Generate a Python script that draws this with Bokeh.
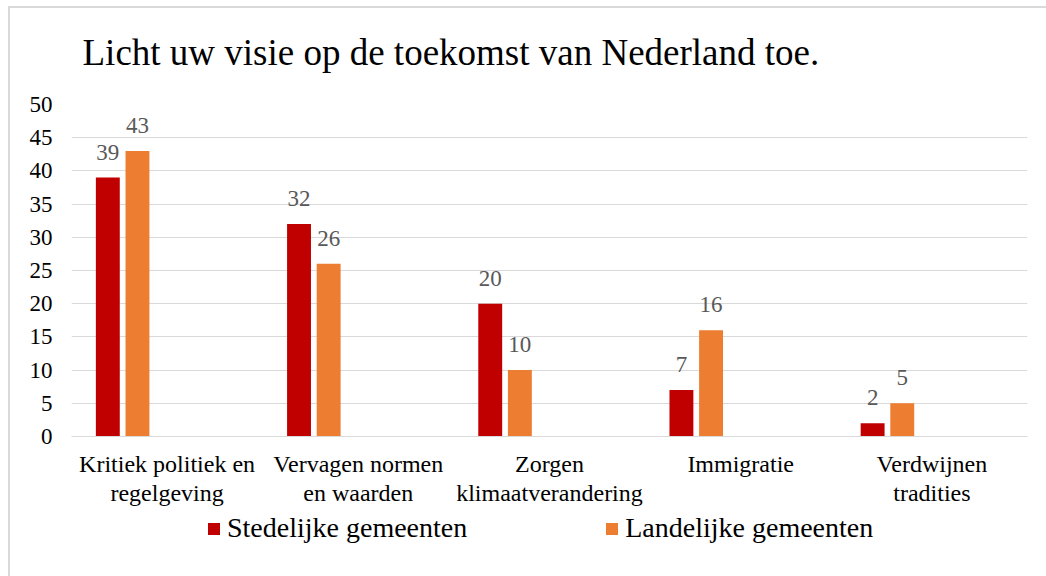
from bokeh.plotting import figure
from bokeh.layouts import column
from bokeh.models import ColumnDataSource, FactorRange, Legend, LegendItem, LabelSet, Label, SingleIntervalTicker, Range1d
from bokeh.transform import dodge
from bokeh.core.properties import value
from bokeh.embed import file_html
from bokeh.resources import INLINE

categories = ["Kritiek politiek en\nregelgeving", "Vervagen normen\nen waarden",
              "Zorgen\nklimaatverandering", "Immigratie", "Verdwijnen\ntradities"]
stedelijk = [39, 32, 20, 7, 2]
landelijk = [43, 26, 10, 16, 5]
series_names = ["Stedelijke gemeenten", "Landelijke gemeenten"]
title_text = "Licht uw visie op de toekomst van Nederland toe."

FONT = "Liberation Serif"
RED = "#C00000"
ORANGE = "#ED7D31"
GRID = "#D9D9D9"

src = ColumnDataSource(dict(cat=categories, s=stedelijk, l=landelijk,
                            s_lbl=[str(v) for v in stedelijk],
                            l_lbl=[str(v) for v in landelijk]))
xr = FactorRange(*categories, range_padding=0)


def strip(h, yr):
    f = figure(x_range=xr, y_range=yr, frame_width=956, frame_height=h,
               output_backend="svg", toolbar_location=None,
               x_axis_location=None, y_axis_location=None,
               min_border_left=61, min_border_right=19, min_border_top=0, min_border_bottom=0)
    f.outline_line_color = None
    f.grid.visible = False
    f.background_fill_color = "white"
    f.border_fill_color = "white"
    return f


# title strip
p0 = strip(76, Range1d(0, 1))
p0.add_layout(Label(x=11, y=32, x_units="screen", y_units="screen", text=title_text,
                    text_font=FONT, text_font_size="37px", text_color="#000000",
                    text_baseline="alphabetic"))

# main chart
p = figure(x_range=xr, y_range=Range1d(0, 50),
           frame_width=956, frame_height=332, output_backend="svg", toolbar_location=None,
           min_border_left=61, min_border_right=19, min_border_top=20, min_border_bottom=72)
p.outline_line_color = None
p.background_fill_color = "white"
p.border_fill_color = "white"

r1 = p.vbar(x=dodge('cat', -0.31, range=xr), top='s', width=0.125, source=src,
            fill_color=RED, line_color=None)
r2 = p.vbar(x=dodge('cat', -0.155, range=xr), top='l', width=0.125, source=src,
            fill_color=ORANGE, line_color=None)

for col, off in (("s", -0.31), ("l", -0.155)):
    p.add_layout(LabelSet(x=dodge('cat', off, range=xr), y=col, text=col + "_lbl",
                          source=src, text_align="center", text_baseline="bottom",
                          y_offset=18, text_font=value(FONT), text_font_size="23px",
                          text_color="#595959"))

p.yaxis.ticker = SingleIntervalTicker(interval=5)
p.yaxis.axis_line_color = None
p.yaxis.major_tick_line_color = None
p.yaxis.minor_tick_line_color = None
p.yaxis.major_tick_out = 0
p.yaxis.major_label_standoff = 15
p.yaxis.major_label_text_font = FONT
p.yaxis.major_label_text_font_size = "23px"
p.yaxis.major_label_text_color = "#000000"

p.xaxis.axis_line_color = GRID
p.xaxis.major_tick_line_color = None
p.xaxis.major_tick_out = 0
p.xaxis.major_label_standoff = 14
p.xaxis.major_label_text_font = FONT
p.xaxis.major_label_text_font_size = "24px"
p.xaxis.major_label_text_line_height = 1.12
p.xaxis.major_label_text_color = "#000000"

p.xgrid.grid_line_color = None
p.ygrid.grid_line_color = GRID
p.ygrid.grid_line_width = 1

# legend strip (the same series, scaled out of view, so that only the legend shows)
p2 = strip(68, Range1d(100, 101))
l1 = p2.vbar(x=dodge('cat', -0.31, range=xr), top='s', width=0.125, source=src,
             fill_color=RED, line_color=None)
l2 = p2.vbar(x=dodge('cat', -0.155, range=xr), top='l', width=0.125, source=src,
             fill_color=ORANGE, line_color=None)

legend = Legend(items=[LegendItem(label=series_names[0], renderers=[l1]),
                       LegendItem(label=series_names[1], renderers=[l2])],
                orientation="horizontal", location=(135, 32), spacing=137,
                glyph_width=15, glyph_height=15, label_standoff=6,
                label_text_font=FONT, label_text_font_size="28px", label_text_color="#000000",
                border_line_color=None, background_fill_color=None, padding=0, margin=0)
p2.add_layout(legend, "center")

layout = column(p0, p, p2, spacing=0)
layout.styles = {"border-top": "2px solid #D9D9D9", "border-left": "2px solid #D9D9D9",
                 "margin-left": "8px", "margin-top": "6px"}

open("out.html", "w").write(file_html(layout, INLINE))
